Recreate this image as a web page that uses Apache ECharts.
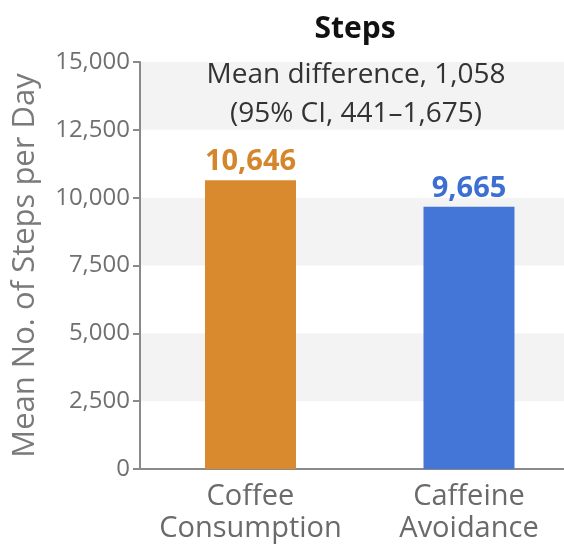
<!DOCTYPE html>
<html><head><meta charset="utf-8">
<script src="https://cdn.jsdelivr.net/npm/echarts@6/dist/echarts.min.js"></script>
<style>html,body{margin:0;padding:0;background:#fff}#c{width:564px;height:548px}</style>
</head><body><div id="c"></div>
<script>
const categories = ['Coffee\nConsumption', 'Caffeine\nAvoidance'];
const stepValues = [10646, 9665];
const barColors = ['#D98A2E', '#4376D6'];
const labelColors = ['#D4862C', '#3D6FD2'];
const titleText = 'Steps';
const annotationLines = ['Mean difference, 1,058', '(95% CI, 441\u20131,675)'];
const yAxisName = 'Mean No. of Steps per Day';
const FONT = '"Open Sans", Lato, sans-serif';

const chart = echarts.init(document.getElementById('c'), null, {renderer: 'canvas'});
chart.setOption({
  animation: false,
  backgroundColor: '#fff',
  title: {
    text: titleText, left: 350, top: 9, textAlign: 'center',
    textStyle: {fontFamily: FONT, fontSize: 30, fontWeight: 'bold', color: '#111'}
  },
  graphic: [{
    type: 'text', x: 356, y: 56, z: 10,
    style: {text: annotationLines.join('\n'), textAlign: 'center', textVerticalAlign: 'top',
      fontFamily: FONT, fontSize: 28, fill: '#333', lineHeight: 39}
  }],
  grid: {left: 140, right: 0, top: 62, bottom: 79, containLabel: false, outerBoundsMode: 'none'},
  xAxis: {
    type: 'value', min: -0.5057, max: 1.4348,
    axisLine: {show: true, onZero: false, lineStyle: {color: '#8a8a8a', width: 2}},
    axisTick: {show: false},
    splitLine: {show: false},
    axisLabel: {customValues: [0, 1], formatter: v => categories[Math.round(v)] || '',
      fontFamily: FONT, fontSize: 29, color: '#6a6a6a', lineHeight: 32, margin: 12}
  },
  yAxis: {
    type: 'value', min: 0, max: 15000, interval: 2500,
    name: yAxisName, nameLocation: 'middle', nameGap: 99,
    nameTextStyle: {fontFamily: FONT, fontSize: 31, color: '#7a7a7a'},
    axisLine: {show: true, onZero: false, lineStyle: {color: '#8a8a8a', width: 2}},
    axisTick: {show: true, length: 7, lineStyle: {color: '#8a8a8a', width: 2}},
    axisLabel: {fontFamily: FONT, fontSize: 24, color: '#707070', margin: 10,
      formatter: v => v.toLocaleString('en-US')},
    splitLine: {show: false},
    splitArea: {show: true, areaStyle: {color: ['#ffffff', '#f3f3f3']}}
  },
  series: [{
    type: 'bar', barWidth: 91,
    data: stepValues.map((v, i) => ({value: [i, v], itemStyle: {color: barColors[i]},
      label: {color: labelColors[i]}})),
    label: {show: true, position: 'top', distance: 4, fontFamily: FONT, fontSize: 29,
      fontWeight: 'bold', formatter: p => p.value[1].toLocaleString('en-US')}
  }]
});
</script></body></html>
